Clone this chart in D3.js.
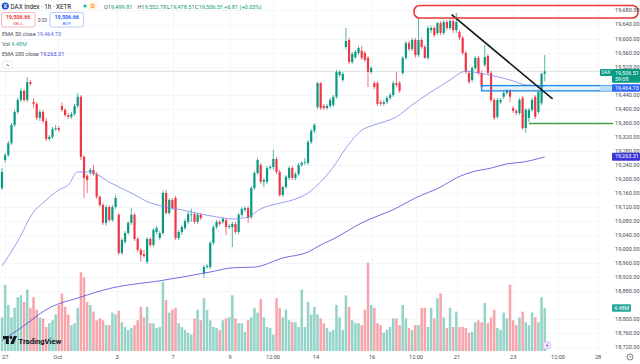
<!DOCTYPE html>
<html>
<head>
<meta charset="utf-8">
<script src="https://cdn.jsdelivr.net/npm/d3@7"></script>
<style>
  body { margin: 0; background: #fff; }
  svg { display: block; font-family: Roboto, "Liberation Sans", sans-serif; }
</style>
</head>
<body>
<svg id="chart" width="640" height="364"></svg>
<script>
// hourly DAX candles, Sep 26 (last bar) .. Oct 24 09:00
const opens = [19174, 19254, 19268, 19302, 19354, 19391, 19425, 19451, 19425, 19476,
  19419, 19414, 19374, 19391, 19365, 19314, 19320, 19342, 19345,
  19408, 19397, 19382, 19377, 19385, 19408, 19434, 19263, 19209,
  19220, 19226, 19214, 19149, 19126, 19075, 19120, 19083, 19120,
  19098, 18989, 19021, 19046, 19075, 19098, 19029, 18998, 18986,
  18964, 19029, 19012, 19049, 19032, 19046, 19160, 19103, 19140,
  19146, 19032, 19049, 19060, 19078, 19098, 19100, 19078, 19098,
  18932, 18949, 18949, 19018, 19063, 19078, 19078, 19083, 19063,
  19063, 19072, 19049, 19098, 19112, 19117, 19092, 19174, 19217,
  19240, 19192, 19192, 19231, 19234, 19257, 19220, 19154, 19177,
  19203, 19231, 19203, 19214, 19240, 19246, 19246, 19305, 19337,
  19405, 19473, 19408, 19402, 19408, 19411, 19434, 19496, 19482,
  19576, 19596, 19533, 19547, 19559, 19565, 19559, 19545, 19505,
  19473, 19473, 19419, 19414, 19419, 19431, 19439, 19473, 19473,
  19502, 19545, 19587, 19570, 19596, 19553, 19596, 19576, 19545,
  19624, 19630, 19616, 19644, 19616, 19647, 19630, 19650, 19624,
  19619, 19602, 19559, 19502, 19482, 19516, 19545, 19502, 19525,
  19550, 19502, 19425, 19377, 19419, 19434, 19445, 19451, 19402,
  19394, 19388, 19431, 19345, 19374, 19397, 19434, 19391, 19416,
  19499.81];
const highs = [19231, 19274, 19308, 19359, 19397, 19431, 19459, 19456, 19490, 19482,
  19431, 19419, 19397, 19397, 19374, 19325, 19348, 19354, 19351,
  19419, 19402, 19388, 19391, 19414, 19445, 19439, 19268, 19214,
  19231, 19240, 19220, 19154, 19132, 19126, 19126, 19126, 19154,
  19103, 19032, 19052, 19080, 19117, 19103, 19035, 19003, 18998,
  19035, 19035, 19060, 19066, 19052, 19166, 19169, 19146, 19146,
  19152, 19055, 19069, 19086, 19106, 19115, 19106, 19103, 19103,
  18955, 18958, 19023, 19069, 19083, 19083, 19092, 19089, 19072,
  19078, 19078, 19103, 19120, 19123, 19123, 19180, 19223, 19260,
  19246, 19203, 19237, 19240, 19283, 19263, 19226, 19180, 19211,
  19237, 19237, 19220, 19246, 19251, 19260, 19311, 19342, 19359,
  19476, 19476, 19414, 19414, 19431, 19439, 19510, 19510, 19505,
  19630, 19602, 19562, 19567, 19579, 19579, 19565, 19550, 19522,
  19479, 19479, 19425, 19425, 19436, 19445, 19479, 19505, 19479,
  19550, 19593, 19593, 19602, 19602, 19661, 19602, 19582, 19636,
  19636, 19636, 19647, 19650, 19653, 19653, 19656, 19656, 19673,
  19624, 19607, 19565, 19508, 19522, 19550, 19550, 19508, 19582,
  19556, 19508, 19431, 19431, 19431, 19451, 19456, 19456, 19408,
  19399, 19431, 19436, 19402, 19402, 19431, 19439, 19453, 19502,
  19552.78];
const lows = [19169, 19246, 19263, 19297, 19348, 19385, 19419, 19419, 19419, 19465,
  19402, 19368, 19365, 19359, 19308, 19308, 19314, 19337, 19334,
  19391, 19377, 19371, 19371, 19379, 19402, 19254, 19146, 19160,
  19211, 19209, 19143, 19120, 19069, 19066, 19078, 19078, 19115,
  18984, 18984, 19015, 19041, 19069, 19023, 18992, 18964, 18975,
  18958, 19006, 19006, 19043, 19026, 19041, 19098, 19098, 19112,
  19026, 19026, 19041, 19055, 19072, 19078, 19072, 19072, 19083,
  18918, 18944, 18944, 19012, 19058, 19066, 19072, 19041, 19058,
  19006, 19043, 19043, 19092, 19106, 19075, 19086, 19169, 19211,
  19186, 19177, 19186, 19226, 19228, 19214, 19149, 19149, 19172,
  19197, 19197, 19197, 19209, 19234, 19240, 19240, 19300, 19331,
  19399, 19397, 19397, 19397, 19402, 19405, 19428, 19490, 19476,
  19570, 19527, 19527, 19542, 19553, 19539, 19533, 19462, 19499,
  19456, 19408, 19408, 19408, 19414, 19425, 19434, 19462, 19445,
  19496, 19539, 19565, 19565, 19545, 19547, 19570, 19542, 19539,
  19616, 19604, 19610, 19610, 19610, 19624, 19624, 19616, 19616,
  19596, 19553, 19499, 19471, 19476, 19510, 19496, 19456, 19519,
  19496, 19419, 19368, 19371, 19414, 19428, 19439, 19419, 19388,
  19382, 19382, 19340, 19331, 19362, 19391, 19371, 19385, 19411,
  19478.51];
const closes = [19220, 19268, 19302, 19354, 19391, 19425, 19451, 19425, 19476, 19471,
  19414, 19374, 19391, 19365, 19314, 19320, 19342, 19345, 19340,
  19397, 19382, 19377, 19385, 19408, 19434, 19263, 19203, 19197,
  19226, 19214, 19149, 19126, 19075, 19120, 19083, 19120, 19146,
  18989, 19026, 19046, 19075, 19098, 19029, 18998, 18984, 18981,
  19029, 19012, 19055, 19060, 19046, 19160, 19103, 19140, 19117,
  19032, 19049, 19063, 19080, 19100, 19100, 19078, 19098, 19089,
  18949, 18952, 19018, 19063, 19078, 19072, 19086, 19063, 19066,
  19072, 19049, 19098, 19115, 19117, 19089, 19174, 19217, 19254,
  19192, 19197, 19231, 19234, 19257, 19220, 19154, 19177, 19206,
  19231, 19203, 19214, 19240, 19246, 19248, 19305, 19337, 19354,
  19473, 19402, 19402, 19408, 19425, 19434, 19505, 19505, 19499,
  19593, 19533, 19556, 19562, 19573, 19545, 19539, 19505, 19516,
  19462, 19414, 19414, 19419, 19431, 19439, 19473, 19468, 19451,
  19545, 19587, 19570, 19596, 19553, 19596, 19576, 19545, 19630,
  19630, 19610, 19644, 19616, 19647, 19630, 19650, 19624, 19647,
  19602, 19559, 19505, 19476, 19516, 19545, 19502, 19462, 19547,
  19502, 19425, 19374, 19425, 19425, 19445, 19451, 19434, 19394,
  19388, 19425, 19345, 19397, 19397, 19425, 19377, 19448, 19500,
  19506.51];
// volume in millions
const volumes = [3.5, 6.9, 4.8, 3.5, 4.5, 5.6, 5.8, 5.1, 6.4, 4.5,
  5.6, 4.3, 3.5, 3.4, 2.5, 2.9, 3.2, 3.8, 4.8,
  6.0, 4.6, 3.8, 2.7, 2.9, 4.5, 8.2, 7.7, 5.1,
  4.8, 4.1, 3.2, 3.4, 3.2, 2.7, 2.7, 4.0, 3.8,
  4.2, 3.0, 2.5, 2.2, 2.4, 2.7, 3.2, 4.6, 3.5,
  4.6, 2.9, 2.9, 2.4, 2.5, 7.2, 5.3, 4.0, 4.3,
  4.5, 2.9, 2.5, 2.2, 1.9, 1.7, 3.4, 4.3, 3.2,
  5.5, 4.3, 3.2, 2.5, 2.4, 2.2, 3.2, 3.4, 3.5,
  5.8, 3.4, 2.9, 2.9, 2.0, 3.2, 3.5, 4.5, 4.0,
  5.4, 3.5, 2.5, 2.4, 1.7, 5.5, 4.5, 3.5, 4.3,
  3.2, 3.0, 3.0, 2.5, 6.4, 2.5, 5.1, 3.8, 4.6,
  3.8, 3.4, 2.9, 2.4, 2.0, 2.2, 4.8, 3.5, 2.2,
  5.8, 4.6, 3.2, 2.9, 2.9, 2.7, 4.3, 9.2, 4.8,
  4.5, 2.9, 2.7, 1.9, 2.2, 2.5, 3.4, 3.4, 2.7,
  4.8, 3.4, 2.4, 2.2, 2.7, 2.7, 4.5, 4.5, 2.5,
  4.5, 3.4, 5.5, 6.0, 3.5, 2.4, 4.5, 2.5, 4.1,
  2.5, 2.5, 2.4, 1.9, 2.0, 3.0, 3.2, 3.0, 5.0,
  2.9, 3.5, 4.3, 2.4, 2.2, 4.0, 3.4, 6.9, 3.2,
  2.7, 3.5, 4.1, 3.0, 2.7, 4.0, 3.5, 3.0, 5.6,
  4.48];

// moving averages: [bar index, value]
const ema50 = [[0, 18952], [5, 19023], [10, 19106], [13, 19132], [18, 19169], [21, 19183],
  [24, 19220], [26, 19220], [29, 19217], [34, 19191], [41, 19160], [47, 19132], [52, 19120],
  [57, 19112], [63, 19100], [68, 19092], [73, 19086], [78, 19092], [82, 19115], [87, 19129],
  [92, 19140], [97, 19160], [100, 19183], [105, 19234], [109, 19288], [114, 19339],
  [118, 19354], [125, 19377], [130, 19411], [136, 19448], [142, 19482], [146, 19505],
  [147, 19507], [151, 19502], [156, 19493], [161, 19482], [166, 19468], [172, 19465]];
const ema200 = [[0, 18739], [6, 18776], [15, 18833], [24, 18861], [35, 18890], [50, 18910],
  [66, 18935], [73, 18947], [80, 18949], [89, 18975], [97, 18992], [101, 19012], [105, 19029],
  [114, 19075], [125, 19117], [131, 19146], [139, 19177], [144, 19203], [149, 19220],
  [155, 19231], [160, 19243], [165, 19248], [172, 19263]];

// price scale labels (19,480 and 18,840 sit under the value tags)
const priceTicks = [18720, 18760, 18800, 18880, 18920, 18960, 19000, 19040, 19080,
  19120, 19160, 19200, 19240, 19280, 19320, 19360, 19400, 19440, 19520, 19560,
  19600, 19640, 19680];
const timeLabels = ['27', 'Oct', '3', '7', '9', '12:00', '14', '16', '12:00', '21', '23', '12:00', '28'];
const timeLabelPos = [1, 17.7, 36.5, 54.2, 72.3, 85.9, 99.5, 117.3, 131.2, 144.2, 162, 176.2, 188.9];

const upColor = '#089981';
const downColor = '#f23645';
const volUp = '#93d3c8';
const volDown = '#f7a4aa';

const svg = d3.select('#chart');
const x = d3.scaleLinear().domain([0, 190]).range([2, 601.5]);
const y = d3.scaleLinear().domain([18720, 19640]).range([347.5, 24.5]);
const yVol = d3.scaleLinear().domain([0, 10]).range([351, 255]);

const candles = closes.map((c, i) => ({
  i, o: opens[i], h: highs[i], l: lows[i], c, v: volumes[i],
}));

// faint grid
svg.append('g').selectAll('line').data(priceTicks).join('line')
  .attr('x1', 0).attr('x2', 600)
  .attr('y1', (d) => Math.round(y(d)) + 0.5).attr('y2', (d) => Math.round(y(d)) + 0.5)
  .attr('stroke', '#f5f6f9');
svg.append('g').selectAll('line').data(timeLabelPos).join('line')
  .attr('x1', (d) => Math.round(x(d)) + 0.5).attr('x2', (d) => Math.round(x(d)) + 0.5)
  .attr('y1', 0).attr('y2', 351)
  .attr('stroke', '#f5f6f9');

// last price line
const last = candles[candles.length - 1];
svg.append('line')
  .attr('x1', 0).attr('x2', 600)
  .attr('y1', y(last.c)).attr('y2', y(last.c))
  .attr('stroke', '#d6d8de').attr('stroke-width', 0.8);

// volume
svg.append('g').selectAll('rect').data(candles).join('rect')
  .attr('x', (d) => x(d.i) - 1.25)
  .attr('width', 2.5)
  .attr('y', (d) => yVol(d.v))
  .attr('height', (d) => yVol(0) - yVol(d.v))
  .attr('fill', (d) => (d.c >= d.o ? volUp : volDown));

// candles
const cg = svg.append('g');
cg.selectAll('line').data(candles).join('line')
  .attr('x1', (d) => x(d.i)).attr('x2', (d) => x(d.i))
  .attr('y1', (d) => y(d.h)).attr('y2', (d) => y(d.l))
  .attr('stroke', (d) => (d.c >= d.o ? upColor : downColor))
  .attr('stroke-width', 0.7);
cg.selectAll('rect').data(candles).join('rect')
  .attr('x', (d) => x(d.i) - 1.1)
  .attr('width', 2.2)
  .attr('y', (d) => y(Math.max(d.o, d.c)))
  .attr('height', (d) => Math.max(0.7, Math.abs(y(d.o) - y(d.c))))
  .attr('fill', (d) => (d.c >= d.o ? upColor : downColor));

// EMA lines
const emaLine = d3.line().x((d) => x(d[0])).y((d) => y(d[1])).curve(d3.curveMonotoneX);
svg.append('path').attr('d', emaLine(ema50))
  .attr('fill', 'none').attr('stroke', '#7c86ee').attr('stroke-width', 0.8);
svg.append('path').attr('d', emaLine(ema200))
  .attr('fill', 'none').attr('stroke', '#5148d8').attr('stroke-width', 0.8);

// drawings
svg.append('rect')
  .attr('x', x(152)).attr('y', y(19466))
  .attr('width', 613 - x(152)).attr('height', y(19451) - y(19466))
  .attr('fill', 'rgba(33,150,243,0.12)')
  .attr('stroke', '#1e88e5').attr('stroke-width', 1.3);
svg.append('line')
  .attr('x1', x(167)).attr('x2', 613)
  .attr('y1', y(19358)).attr('y2', y(19358))
  .attr('stroke', '#43a047').attr('stroke-width', 1.5);
svg.append('line')
  .attr('x1', x(142.5)).attr('y1', y(19668))
  .attr('x2', x(174.5)).attr('y2', y(19428))
  .attr('stroke', '#131722').attr('stroke-width', 1.6);
svg.append('rect')
  .attr('x', x(130.6)).attr('y', 5.5)
  .attr('width', 638 - x(130.6)).attr('height', 12.5)
  .attr('rx', 5.5)
  .attr('fill', 'none').attr('stroke', '#e53935').attr('stroke-width', 1.6);

// price axis
svg.append('rect').attr('x', 600).attr('y', y(19466)).attr('width', 40)
  .attr('height', y(19451) - y(19466)).attr('fill', '#bbdefb');
svg.append('g').selectAll('text').data(priceTicks).join('text')
  .attr('x', 615).attr('y', (d) => y(d))
  .attr('dy', '0.35em')
  .attr('font-size', 5.6).attr('fill', '#4a4d57')
  .text((d) => d3.format(',.2f')(d));

function tag(top, h, fill, lines, x0 = 612, w = 28) {
  svg.append('rect').attr('x', x0).attr('y', top).attr('width', w).attr('height', h)
    .attr('rx', 1).attr('fill', fill);
  lines.forEach((t, k) => {
    svg.append('text').attr('x', x0 + 3).attr('y', top + 5.6 + k * 6.8)
      .attr('font-size', 5.4).attr('fill', '#fff').text(t);
  });
}
tag(69, 13.8, upColor, [d3.format(',.2f')(last.c), '59:08']);
svg.append('rect').attr('x', 600).attr('y', 69).attr('width', 12).attr('height', 7)
  .attr('rx', 1).attr('fill', upColor);
svg.append('text').attr('x', 606).attr('y', 74.3).attr('text-anchor', 'middle')
  .attr('font-size', 4.6).attr('fill', '#fff').text('DAX');
tag(84.3, 7.4, '#2f66f2', ['19,464.73']);
tag(y(19263.31) - 3.9, 7.8, '#3b35d8', ['19,263.31']);
svg.append('rect').attr('x', 612).attr('y', yVol(4.48) - 3.8).attr('width', 19).attr('height', 7.6)
  .attr('rx', 1).attr('fill', '#26a69a');
svg.append('text').attr('x', 614).attr('y', yVol(4.48) + 2)
  .attr('font-size', 5.4).attr('fill', '#fff').text('4.48M');

// time axis
svg.append('g').selectAll('text').data(timeLabels).join('text')
  .attr('x', (d, k) => x(timeLabelPos[k]))
  .attr('y', 359)
  .attr('text-anchor', 'middle')
  .attr('font-size', 5.6).attr('fill', '#4a4d57')
  .text((d) => d);
svg.append('circle').attr('cx', 630).attr('cy', 357).attr('r', 3)
  .attr('fill', 'none').attr('stroke', '#4a4d57').attr('stroke-width', 0.7);
svg.append('path').attr('d', 'M630 355.3 V357 H631.5')
  .attr('fill', 'none').attr('stroke', '#4a4d57').attr('stroke-width', 0.6);

// lightning badge
svg.append('circle').attr('cx', 547).attr('cy', 345.5).attr('r', 4)
  .attr('fill', '#f4ecff').attr('stroke', '#c2a3f5').attr('stroke-width', 0.6);
svg.append('path').attr('d', 'M547.8 342.6 L545.6 346 H547.2 L546.4 348.6 L548.7 345 H547.1 Z')
  .attr('fill', '#9c5ce6');

// TradingView logo
svg.append('path').attr('d', 'M3 336 H8.8 V344 H5.9 V339 H3 Z').attr('fill', '#131722');
svg.append('circle').attr('cx', 10.9).attr('cy', 337.5).attr('r', 1.4).attr('fill', '#131722');
svg.append('path').attr('d', 'M13.7 336 H17 L13.6 344 H10.4 Z').attr('fill', '#131722');
svg.append('text').attr('x', 18.5).attr('y', 344)
  .attr('font-size', 7.6).attr('font-weight', 700).attr('fill', '#131722')
  .text('TradingView');

// legend
const lg = svg.append('g');
lg.append('circle').attr('cx', 5.3).attr('cy', 6).attr('r', 3.6).attr('fill', '#1f4fd0');
lg.append('text').attr('x', 5.3).attr('y', 7.9).attr('text-anchor', 'middle')
  .attr('font-size', 5).attr('font-weight', 700).attr('fill', '#fff').text('X');
lg.append('text').attr('x', 10.5).attr('y', 8.6).attr('font-size', 6.3).attr('fill', '#131722')
  .text('DAX Index · 1h · XETR');
lg.append('circle').attr('cx', 85).attr('cy', 6).attr('r', 2.8).attr('fill', '#d9f2ea');
lg.append('circle').attr('cx', 85).attr('cy', 6).attr('r', 1.3).attr('fill', '#22ab94');
lg.append('rect').attr('x', 89).attr('y', 2).attr('width', 8).attr('height', 8).attr('rx', 1.5)
  .attr('fill', '#fff3e0');
lg.append('text').attr('x', 93).attr('y', 8.3).attr('text-anchor', 'middle')
  .attr('font-size', 5.8).attr('font-weight', 700).attr('fill', '#ff9800').text('D');

const ohlc = [['O', '19,499.81', 104], ['H', '19,552.78', 137.5], ['L', '19,478.51', 167], ['C', '19,506.51', 195]];
ohlc.forEach(([k, v, px]) => {
  const t = lg.append('text').attr('x', px).attr('y', 8.6).attr('font-size', 5.6);
  t.append('tspan').attr('fill', '#4a4d57').text(k);
  t.append('tspan').attr('fill', upColor).text(v);
});
lg.append('text').attr('x', 224).attr('y', 8.6).attr('font-size', 5.6).attr('fill', upColor)
  .text('+6.81 (+0.03%)');

// sell / buy
lg.append('rect').attr('x', 1.5).attr('y', 12.5).attr('width', 33.5).attr('height', 14.5).attr('rx', 2)
  .attr('fill', '#fff').attr('stroke', '#f5a3a9').attr('stroke-width', 0.8);
lg.append('text').attr('x', 18.2).attr('y', 18.8).attr('text-anchor', 'middle')
  .attr('font-size', 5.4).attr('font-weight', 700).attr('fill', downColor).text('19,506.66');
lg.append('text').attr('x', 18.2).attr('y', 25).attr('text-anchor', 'middle')
  .attr('font-size', 4.4).attr('fill', downColor).text('SELL');
lg.append('text').attr('x', 42.5).attr('y', 22).attr('text-anchor', 'middle')
  .attr('font-size', 4.6).attr('fill', '#4a4d57').text('0.00');
lg.append('rect').attr('x', 50).attr('y', 12.5).attr('width', 33.5).attr('height', 14.5).attr('rx', 2)
  .attr('fill', '#fff').attr('stroke', '#a8bdf7').attr('stroke-width', 0.8);
lg.append('text').attr('x', 66.7).attr('y', 18.8).attr('text-anchor', 'middle')
  .attr('font-size', 5.4).attr('font-weight', 700).attr('fill', '#2962ff').text('19,506.66');
lg.append('text').attr('x', 66.7).attr('y', 25).attr('text-anchor', 'middle')
  .attr('font-size', 4.4).attr('fill', '#2962ff').text('BUY');

const studies = [['EMA 50 close', '19,464.73', 36, '#5b63e8'], ['Vol', '4.48M', 45.7, '#22ab94'],
  ['EMA 200 close', '19,263.31', 55.5, '#4338d6']];
studies.forEach(([name, val, py, col]) => {
  const t = lg.append('text').attr('x', 2).attr('y', py).attr('font-size', 5.5);
  t.append('tspan').attr('fill', '#4a4d57').text(name + '  ');
  t.append('tspan').attr('fill', col).text(val);
});
lg.append('rect').attr('x', 2.5).attr('y', 61.5).attr('width', 10).attr('height', 7).attr('rx', 1.5)
  .attr('fill', '#fff').attr('stroke', '#e0e3eb').attr('stroke-width', 0.6);
lg.append('path').attr('d', 'M6 66 L7.5 64.5 L9 66').attr('fill', 'none')
  .attr('stroke', '#131722').attr('stroke-width', 0.6);
</script>
</body>
</html>
